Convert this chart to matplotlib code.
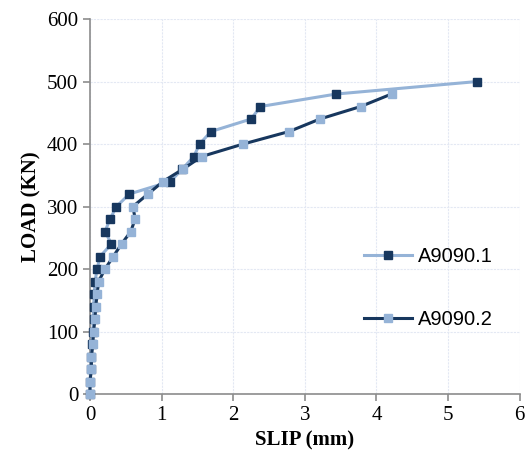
import numpy as np
import matplotlib.pyplot as plt

# load steps (kN) and measured slip (mm)
load_1 = [0, 20, 40, 60, 80, 100, 120, 140, 160, 180, 200, 220, 240, 260, 280,
          300, 320, 340, 360, 380, 400, 420, 440, 460, 480, 500]
slip_1 = [0.0, 0.0, 0.01, 0.02, 0.03, 0.04, 0.05, 0.05, 0.06, 0.07, 0.10, 0.14,
          0.30, 0.21, 0.28, 0.37, 0.55, 1.12, 1.29, 1.45, 1.53, 1.69, 2.25, 2.38,
          3.44, 5.41]

load_2 = [0, 20, 40, 60, 80, 100, 120, 140, 160, 180, 200, 220, 240, 260, 280,
          300, 320, 340, 360, 380, 400, 420, 440, 460, 480]
slip_2 = [0.0, 0.0, 0.02, 0.02, 0.04, 0.05, 0.07, 0.08, 0.10, 0.12, 0.21, 0.325,
          0.44, 0.57, 0.63, 0.60, 0.81, 1.02, 1.30, 1.56, 2.14, 2.78, 3.21, 3.78,
          4.21]

light = "#95B3D7"
dark = "#17375E"

fig = plt.figure(figsize=(5.25, 4.59), dpi=100)
ax = fig.add_axes([0.1714, 0.1416, 0.8186, 0.817])

ax.plot(slip_1, load_1, color=light, lw=2.2, marker="s", ms=6,
        mfc=dark, mec=dark, label="A9090.1", clip_on=False, zorder=3)
ax.plot(slip_2, load_2, color=dark, lw=2.2, marker="s", ms=6,
        mfc=light, mec=light, label="A9090.2", clip_on=False, zorder=4)

ax.set_xlim(0, 6)
ax.set_ylim(0, 600)
ax.set_xticks(range(0, 7))
ax.set_yticks(range(0, 601, 100))

ax.grid(True, color="#e3e8f3", lw=0.8, ls=(0, (2, 1)))
ax.set_axisbelow(True)
for s in ["top", "right"]:
    ax.spines[s].set_visible(False)
for s in ["left", "bottom"]:
    ax.spines[s].set_color("#8c8c8c")
    ax.spines[s].set_linewidth(1.2)
ax.tick_params(colors="#8c8c8c", length=5, width=1.2, labelcolor="black")

for lab in ax.get_xticklabels() + ax.get_yticklabels():
    lab.set_fontfamily("Liberation Serif")
    lab.set_fontsize(15)

ax.set_xlabel("SLIP (mm)", fontfamily="Liberation Serif", fontweight="bold", fontsize=15)
ax.set_ylabel("LOAD (KN)", fontfamily="Liberation Serif", fontweight="bold", fontsize=15)

ax.legend(loc="upper left", bbox_to_anchor=(0.595, 0.44), frameon=False,
          prop={"family": "Liberation Sans", "size": 14.5}, labelspacing=2.2,
          handlelength=2.4, handletextpad=0.3, markerscale=0.9)

fig.savefig("out.png", dpi=100)
